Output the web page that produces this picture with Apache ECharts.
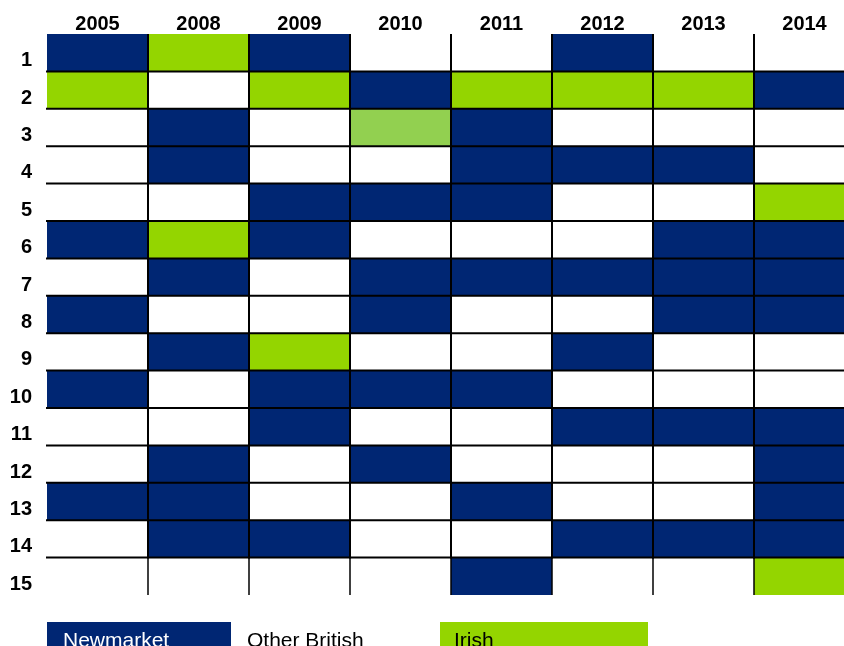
<!DOCTYPE html>
<html>
<head>
<meta charset="utf-8">
<script src="https://cdn.jsdelivr.net/npm/echarts@6/dist/echarts.min.js"></script>
<style>
  html, body { margin: 0; padding: 0; background: #fff; }
  #main { width: 844px; height: 646px; }
</style>
</head>
<body>
<div id="main"></div>
<script>
// N = Newmarket, O = Other British, I = Irish, L = Irish (lighter shade)
var years = ['2005', '2008', '2009', '2010', '2011', '2012', '2013', '2014'];
var rows = ['1', '2', '3', '4', '5', '6', '7', '8', '9', '10', '11', '12', '13', '14', '15'];

var y2005 = ['N','I','O','O','O','N','O','N','O','N','O','O','N','O','O'];
var y2008 = ['I','O','N','N','O','I','N','O','N','O','O','N','N','N','O'];
var y2009 = ['N','I','O','O','N','N','O','O','I','N','N','O','O','N','O'];
var y2010 = ['O','N','L','O','N','O','N','N','O','N','O','N','O','O','O'];
var y2011 = ['O','I','N','N','N','O','N','O','O','N','O','O','N','O','N'];
var y2012 = ['N','I','O','N','O','O','N','O','N','O','N','O','O','N','O'];
var y2013 = ['O','I','O','N','O','N','N','N','O','O','N','O','O','N','O'];
var y2014 = ['O','N','O','O','I','N','N','N','O','O','N','N','N','N','I'];

var legendNames = ['Newmarket', 'Other British', 'Irish'];

var colors = {
  N: '#002673',
  O: '#ffffff',
  I: '#94d500',
  L: '#92d050'
};

var columns = [y2005, y2008, y2009, y2010, y2011, y2012, y2013, y2014];
var cells = [];
columns.forEach(function (col, ci) {
  col.forEach(function (code, ri) {
    cells.push([ci, ri, code]);
  });
});

var font = 'Arial, "Liberation Sans", sans-serif';

var chart = echarts.init(document.getElementById('main'));

var option = {
  backgroundColor: '#ffffff',
  animation: false,
  grid: {
    left: 47,
    top: 34,
    width: 808,
    height: 561,
    outerBoundsMode: 'none',
    containLabel: false
  },
  xAxis: {
    type: 'category',
    position: 'top',
    data: years,
    axisLine: { show: false },
    axisTick: { show: false },
    splitLine: { show: false },
    axisLabel: {
      fontFamily: font,
      fontSize: 20,
      fontWeight: 'bold',
      color: '#000',
      margin: 0
    }
  },
  yAxis: {
    type: 'category',
    inverse: true,
    data: rows,
    axisLine: { show: false },
    axisTick: { show: false },
    splitLine: { show: false },
    axisLabel: {
      fontFamily: font,
      fontSize: 20,
      fontWeight: 'bold',
      color: '#000',
      margin: 15,
      verticalAlign: 'top',
      lineHeight: 16
    }
  },
  series: [
    {
      // cell fills
      type: 'custom',
      data: cells,
      renderItem: function (params, api) {
        var c = api.coord([api.value(0), api.value(1)]);
        var s = api.size([1, 1]);
        var code = cells[params.dataIndex][2];
        return {
          type: 'rect',
          shape: { x: c[0] - s[0] / 2, y: c[1] - s[1] / 2, width: s[0], height: s[1] },
          style: { fill: colors[code] }
        };
      },
      z: 2
    },
    {
      // black cell borders (right and bottom edges)
      type: 'custom',
      data: cells,
      renderItem: function (params, api) {
        var ci = api.value(0);
        var ri = api.value(1);
        var c = api.coord([ci, ri]);
        var s = api.size([1, 1]);
        var x0 = c[0] - s[0] / 2, x1 = c[0] + s[0] / 2;
        var y0 = c[1] - s[1] / 2, y1 = c[1] + s[1] / 2;
        var children = [];
        if (ci < years.length - 1) {
          children.push({
            type: 'line',
            shape: { x1: x1, y1: y0, x2: x1, y2: y1 },
            style: { stroke: '#000', lineWidth: ri === rows.length - 1 ? 1.5 : 2 }
          });
        }
        if (ri < rows.length - 1) {
          children.push({
            type: 'line',
            shape: { x1: x0 - 1, y1: y1, x2: x1 + 1, y2: y1 },
            style: { stroke: '#000', lineWidth: 2 }
          });
        }
        return { type: 'group', children: children };
      },
      z: 3
    }
  ],
  graphic: [
    {
      type: 'rect',
      left: 47, top: 622,
      shape: { width: 184, height: 30 },
      style: { fill: colors.N }
    },
    {
      type: 'text',
      left: 63, top: 631,
      style: { text: legendNames[0], fill: '#fff', fontFamily: font, fontSize: 21 }
    },
    {
      type: 'text',
      left: 247, top: 631,
      style: { text: legendNames[1], fill: '#000', fontFamily: font, fontSize: 21 }
    },
    {
      type: 'rect',
      left: 440, top: 622,
      shape: { width: 208, height: 30 },
      style: { fill: colors.I }
    },
    {
      type: 'text',
      left: 454, top: 631,
      style: { text: legendNames[2], fill: '#000', fontFamily: font, fontSize: 21 }
    }
  ]
};

chart.setOption(option);
</script>
</body>
</html>
